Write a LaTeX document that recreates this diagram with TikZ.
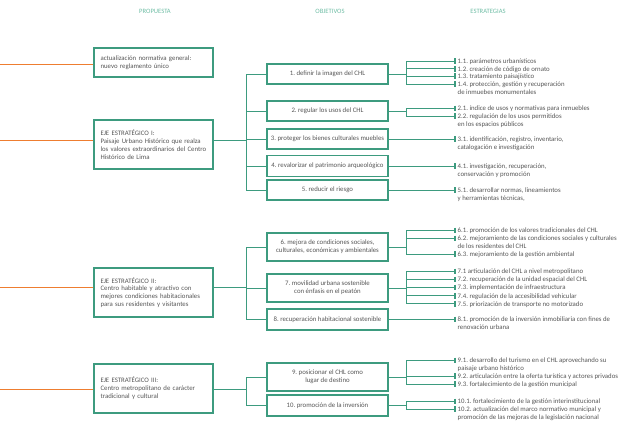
\documentclass[tikz,border=0pt]{standalone}
\usepackage{fontspec}
\setmainfont{Carlito}
\usetikzlibrary{positioning}
\frenchspacing
\definecolor{chlgreen}{HTML}{3D9B7F}
\definecolor{chlorange}{HTML}{EE7D30}
\definecolor{chlgrey}{HTML}{555555}
\definecolor{chlhead}{HTML}{6FBDA5}
\newcommand{\chlfont}{\fontsize{6.8}{7.8}\selectfont}
\tikzstyle{head}=[font=\fontsize{6.6}{8}\selectfont,text=chlhead,inner sep=0pt]
\tikzstyle{eje}=[rectangle,draw=chlgreen,line width=1.1pt,align=left,text width=106pt,inner xsep=6.5pt,font=\chlfont,text=chlgrey,minimum width=119pt]
\tikzstyle{obj}=[rectangle,draw=chlgreen,line width=1.1pt,align=center,minimum width=121pt,inner xsep=1.5pt,inner ysep=1pt,font=\chlfont,text=chlgrey]
\tikzstyle{strat}=[anchor=base west,inner sep=0pt,font=\chlfont,text=chlgrey]
\tikzstyle{link}=[draw=chlgreen,line width=0.9pt]
\tikzstyle{lead}=[draw=chlorange,line width=0.9pt]
\tikzstyle{tick}=[draw=chlgreen,line width=1.3pt]
\newcommand{\strat}[3]{%
  \coordinate (#1) at (455,#2);
  \draw[tick] (455,#2-2.8) -- (455,#2+2.8);
  \node[strat] (#1t) at (457.5,#2+2.3) {\begin{tabular}[t]{@{}l@{}}#3\end{tabular}};}

\begin{document}
\begin{tikzpicture}[x=1pt,y=-1pt]
\useasboundingbox (0,0) rectangle (640,447);
\node[head] (hp) at (155,11) {PROPUESTA};
\node[head] (ho) at (330,11) {OBJETIVOS};
\node[head] (hs) at (488,11) {ESTRATEGIAS};

% propuesta
\node[eje,minimum height=29pt] (p0) at (153.5,62.5) {actualización normativa general:\\nuevo reglamento único};
\node[eje,minimum height=49pt] (e1) at (153.5,144.5) {EJE ESTRATÉGICO I:\\Paisaje Urbano Histórico que realza\\los valores extraordinarios del Centro\\Histórico de Lima};
\node[eje,minimum height=49pt] (e2) at (153.5,292.5) {EJE ESTRATÉGICO II:\\Centro habitable y atractivo con\\mejores condiciones habitacionales\\para sus residentes y visitantes};
\node[eje,minimum height=49pt] (e3) at (153.5,388.5) {EJE ESTRATÉGICO III:\\Centro metropolitano de carácter\\tradicional y cultural};

% objetivos
\node[obj,minimum height=20pt] (o1) at (327.5,74) {1. definir la imagen del CHL};
\node[obj,minimum height=20pt] (o2) at (327.5,111) {2. regular los usos del CHL};
\node[obj,minimum height=20pt] (o3) at (327.5,139) {3. proteger los bienes culturales muebles};
\node[obj,minimum height=21pt] (o4) at (327.5,166) {4. revalorizar el patrimonio arqueológico};
\node[obj,minimum height=20pt] (o5) at (327.5,190) {5. reducir el riesgo};
\node[obj,minimum height=28pt] (o6) at (327.5,247) {6. mejora de condiciones sociales,\\culturales, económicas y ambientales};
\node[obj,minimum height=28pt] (o7) at (327.5,288) {7. movilidad urbana sostenible\\con énfasis en el peatón};
\node[obj,minimum height=21pt] (o8) at (327.5,319.5) {8. recuperación habitacional sostenible};
\node[obj,minimum height=28pt] (o9) at (327.5,377) {9. posicionar el CHL como\\lugar de destino};
\node[obj,minimum height=21pt] (o10) at (327.5,405.5) {10. promoción de la inversión};

% estrategias
\strat{s11}{61}{1.1. parámetros urbanísticos}
\strat{s12}{68.7}{1.2. creación de código de ornato}
\strat{s13}{76}{1.3. tratamiento paisajístico}
\strat{s14}{84}{1.4. protección, gestión y recuperación\\de inmuebes monumentales}
\strat{s21}{108.3}{2.1. índice de usos y normativas para inmuebles}
\strat{s22}{116}{2.2. regulación de los usos permitidos\\en los espacios públicos}
\strat{s31}{139}{3.1. identificación, registro, inventario,\\catalogación e investigación}
\strat{s41}{166}{4.1. investigación, recuperación,\\conservación y promoción}
\strat{s51}{190}{5.1. desarrollar normas, lineamientos\\y herramientas técnicas,}
\strat{s61}{230.5}{6.1. promoción de los valores tradicionales del CHL}
\strat{s62}{238.5}{6.2. mejoramiento de las condiciones sociales y culturales\\de los residentes del CHL}
\strat{s63}{254}{6.3. mejoramiento de la gestión ambiental}
\strat{s71}{271.5}{7.1 articulación del CHL a nivel metropolitano}
\strat{s72}{279.4}{7.2. recuperación de la unidad espacial del CHL}
\strat{s73}{287.4}{7.3. implementación de infraestructura}
\strat{s74}{295.7}{7.4. regulación de la accesibilidad vehicular}
\strat{s75}{303.7}{7.5. priorización de transporte no motorizado}
\strat{s81}{319.5}{8.1. promoción de la inversión inmobiliaria con fines de\\renovación urbana}
\strat{s91}{360.5}{9.1. desarrollo del turismo en el CHL aprovechando su\\paisaje urbano histórico}
\strat{s92}{376}{9.2. articulación entre la oferta turística y actores privados}
\strat{s93}{384}{9.3. fortalecimiento de la gestión municipal}
\strat{s101}{401.5}{10.1. fortalecimiento de la gestión interinstitucional}
\strat{s102}{409}{10.2. actualización del marco normativo municipal y\\promoción de las mejoras de la legislación nacional}

% llegadas y ejes
\coordinate (a0) at (0,64);
\coordinate (a1) at (0,140);
\coordinate (a2) at (0,287);
\coordinate (a3) at (0,389);
\coordinate (l) at (246,0);
\coordinate (r) at (406,0);
\draw[lead] (a0) -- (a0 -| p0.west);
\draw[lead] (a1) -- (a1 -| e1.west);
\draw[lead] (a2) -- (a2 -| e2.west);
\draw[lead] (a3) -- (a3 -| e3.west);

\draw[link] (a1 -| e1.east) -- (a1 -| l);
\draw[link] (l |- o1) -- (l |- o5);
\foreach \o in {o1,o2,o3,o4,o5} \draw[link] (l |- \o) -- (\o);
\draw[link] (a2 -| e2.east) -- (a2 -| l);
\draw[link] (l |- o6) -- (l |- o8);
\foreach \o in {o6,o7,o8} \draw[link] (l |- \o) -- (\o);
\draw[link] (a3 -| e3.east) -- (a3 -| l);
\draw[link] (l |- o9) -- (l |- o10);
\foreach \o in {o9,o10} \draw[link] (l |- \o) -- (\o);

% objetivos a estrategias
\draw[link] (o1) -- (o1 -| r);
\draw[link] (r |- s11) -- (r |- s14);
\foreach \s in {s11,s12,s13,s14} \draw[link] (r |- \s) -- (\s);
\draw[link] (o2) -- (o2 -| r);
\draw[link] (r |- s21) -- (r |- s22);
\foreach \s in {s21,s22} \draw[link] (r |- \s) -- (\s);
\draw[link] (o3) -- (s31);
\draw[link] (o4) -- (s41);
\draw[link] (o5) -- (s51);
\draw[link] (o6) -- (o6 -| r);
\draw[link] (r |- s61) -- (r |- s63);
\foreach \s in {s61,s62,s63} \draw[link] (r |- \s) -- (\s);
\draw[link] (o7) -- (o7 -| r);
\draw[link] (r |- s71) -- (r |- s75);
\foreach \s in {s71,s72,s73,s74,s75} \draw[link] (r |- \s) -- (\s);
\draw[link] (o8) -- (s81);
\draw[link] (o9) -- (o9 -| r);
\draw[link] (r |- s91) -- (r |- s93);
\foreach \s in {s91,s92,s93} \draw[link] (r |- \s) -- (\s);
\draw[link] (o10) -- (o10 -| r);
\draw[link] (r |- s101) -- (r |- s102);
\foreach \s in {s101,s102} \draw[link] (r |- \s) -- (\s);
\end{tikzpicture}
\end{document}
